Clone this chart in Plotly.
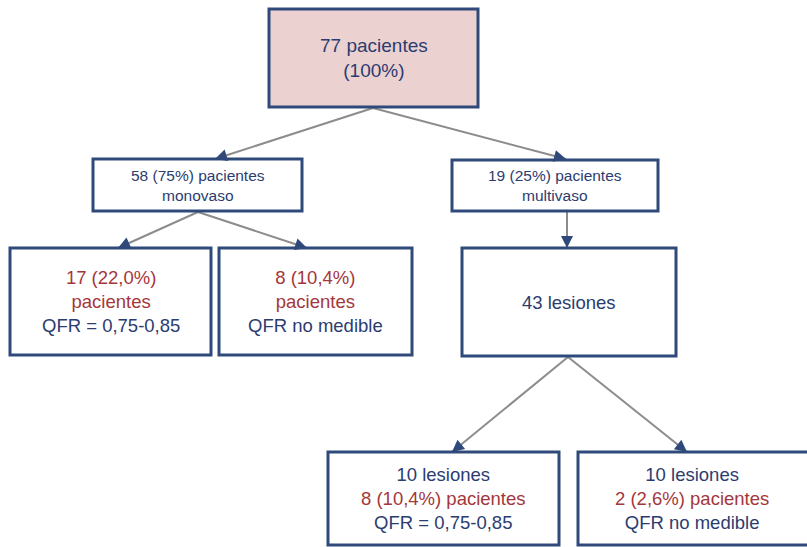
import plotly.graph_objects as go
import math

# ---- data (texts of the flowchart) ----
node_ids = ["total", "mono", "multi", "mono_qfr", "mono_nm", "lesiones", "les_qfr", "les_nm"]
node_lines = [
    [("77 pacientes", "n"), ("(100%)", "n")],
    [("58 (75%) pacientes", "n"), ("monovaso", "n")],
    [("19 (25%) pacientes", "n"), ("multivaso", "n")],
    [("17 (22,0%)", "r"), ("pacientes", "r"), ("QFR = 0,75-0,85", "n")],
    [("8 (10,4%)", "r"), ("pacientes", "r"), ("QFR no medible", "n")],
    [("43 lesiones", "n")],
    [("10 lesiones", "n"), ("8 (10,4%) pacientes", "r"), ("QFR = 0,75-0,85", "n")],
    [("10 lesiones", "n"), ("2 (2,6%) pacientes", "r"), ("QFR no medible", "n")],
]
edges = [("total", "mono"), ("total", "multi"), ("mono", "mono_qfr"), ("mono", "mono_nm"),
         ("multi", "lesiones"), ("lesiones", "les_qfr"), ("lesiones", "les_nm")]

# ---- layout geometry (pixels: x0, y0, x1, y1) ----
geom = {
    "total": (269, 9, 478, 107),
    "mono": (93, 159, 302, 211),
    "multi": (452, 160, 658, 211),
    "mono_qfr": (10, 248, 211, 355),
    "mono_nm": (219, 248, 412, 355),
    "lesiones": (462, 248, 676, 356),
    "les_qfr": (328, 452, 559, 545),
    "les_nm": (578, 452, 814, 545),
}
text_centers = {"les_nm": 692}
font_sizes = {"total": 19, "mono": 15.5, "multi": 15.5, "mono_qfr": 18.5, "mono_nm": 18.5,
              "lesiones": 18.5, "les_qfr": 18.5, "les_nm": 18.5}
# start/end points of arrows
edge_pts = {
    ("total", "mono"): ((373, 108), (215, 159)),
    ("total", "multi"): ((373, 108), (566, 159)),
    ("mono", "mono_qfr"): ((198, 212), (118, 248)),
    ("mono", "mono_nm"): ((198, 212), (307, 248)),
    ("multi", "lesiones"): ((567, 212), (567, 248)),
    ("lesiones", "les_qfr"): ((568, 357), (452, 452)),
    ("lesiones", "les_nm"): ((568, 357), (687, 452)),
}

NAVY = "#2B3C70"
BORDER = "#2F4A7A"
RED = "#A4373B"
GRAY = "#8C8C8C"
PINK = "#EBD1D0"

fig = go.Figure()
shapes = []
annotations = []

for (a, b) in edges:
    (x0, y0), (x1, y1) = edge_pts[(a, b)]
    shapes.append(dict(type="line", xref="x", yref="y", x0=x0, y0=y0, x1=x1, y1=y1,
                       line=dict(color=GRAY, width=2), layer="below"))
    d = math.hypot(x1 - x0, y1 - y0)
    ux, uy = (x1 - x0) / d, (y1 - y0) / d
    annotations.append(dict(x=x1, y=y1, ax=x1 - ux * 6, ay=y1 - uy * 6, xref="x", yref="y",
                            axref="x", ayref="y", showarrow=True, arrowhead=2, arrowsize=1.2,
                            arrowwidth=2, arrowcolor=BORDER, text="", standoff=0))

for nid, lines in zip(node_ids, node_lines):
    x0, y0, x1, y1 = geom[nid]
    fill = PINK if nid == "total" else "white"
    shapes.append(dict(type="rect", xref="x", yref="y", x0=x0, y0=y0, x1=x1, y1=y1,
                       fillcolor=fill, line=dict(color=BORDER, width=3), layer="above"))
    txt = "<br>".join(
        f"<span style='color:{NAVY if c == 'n' else RED}'>{t}</span>" for t, c in lines)
    cx = text_centers.get(nid, (x0 + x1) / 2)
    annotations.append(dict(x=cx, y=(y0 + y1) / 2, xref="x", yref="y",
                            text=txt, showarrow=False, align="center",
                            font=dict(family="Liberation Sans, Arial, sans-serif",
                                      size=font_sizes[nid], color=NAVY)))

fig.update_layout(
    width=807, height=547,
    margin=dict(l=0, r=0, t=0, b=0),
    paper_bgcolor="white", plot_bgcolor="white",
    xaxis=dict(range=[0, 807], visible=False, fixedrange=True),
    yaxis=dict(range=[547, 0], visible=False, fixedrange=True),
    shapes=shapes, annotations=annotations, showlegend=False,
)
fig.write_html("out.html", config={"displayModeBar": False},
               post_script="document.body.style.margin='0';document.body.style.overflow='hidden';")
